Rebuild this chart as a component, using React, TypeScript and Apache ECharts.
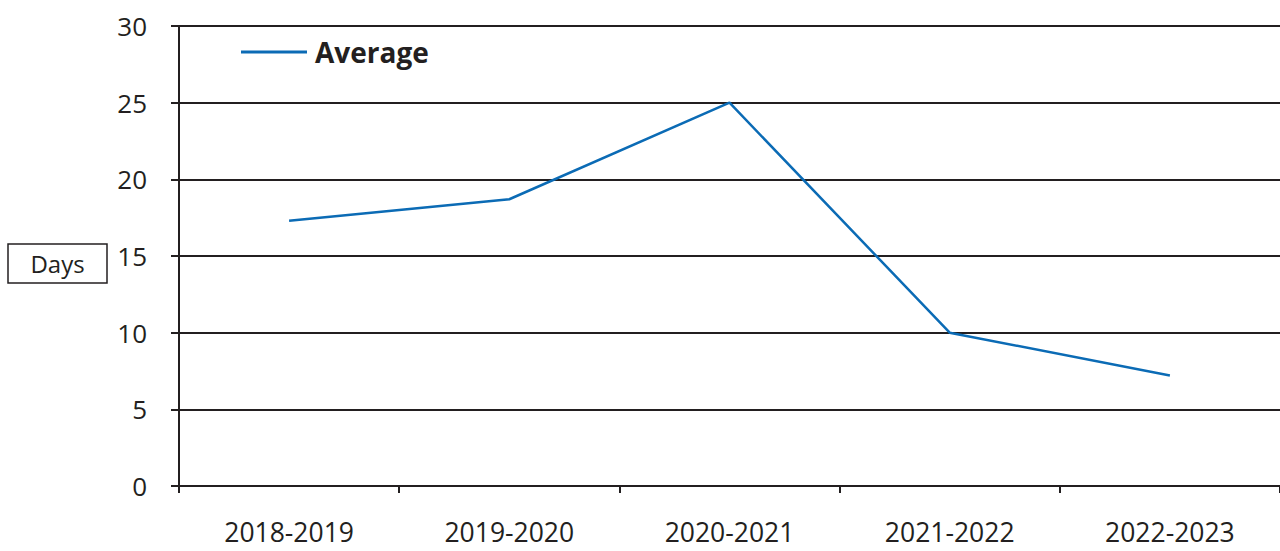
import React, { useEffect, useRef } from "react";
import * as echarts from "echarts";

const categories = ["2018-2019", "2019-2020", "2020-2021", "2021-2022", "2022-2023"];
const averageValues = [17.3, 18.7, 25.0, 10.0, 7.2];
const seriesName = "Average";
const yAxisTitle = "Days";

export default function App() {
  const ref = useRef<HTMLDivElement>(null);
  useEffect(() => {
    const chart = echarts.init(ref.current!, null, { renderer: "svg" });
    const font = "'Open Sans', sans-serif";
    const dark = "#231f20";
    const blue = "#0b6bb5";
    chart.setOption({
      animation: false,
      textStyle: { fontFamily: font },
      grid: { left: 179, right: 0, top: 26, bottom: 65, containLabel: false },
      legend: {
        data: [{ name: seriesName, icon: "rect" }],
        left: 241,
        top: 37,
        padding: 0,
        itemWidth: 66,
        itemHeight: 3,
        textStyle: {
          fontFamily: font,
          fontSize: 28,
          fontWeight: "bold",
          color: dark,
          padding: [0, 0, 0, 3],
          lineHeight: 30,
        },
      },
      xAxis: {
        type: "category",
        data: categories,
        boundaryGap: true,
        axisLine: { show: true, lineStyle: { color: dark, width: 2 } },
        axisTick: { show: true, length: 7, lineStyle: { color: dark, width: 2 } },
        axisLabel: { fontFamily: font, fontSize: 26.5, color: dark, margin: 33, lineHeight: 26 },
        splitLine: { show: false },
      },
      yAxis: {
        type: "value",
        min: 0,
        max: 30,
        interval: 5,
        axisLine: { show: true, lineStyle: { color: dark, width: 2 } },
        axisTick: { show: true, length: 8, lineStyle: { color: dark, width: 2 } },
        axisLabel: { fontFamily: font, fontSize: 26, color: dark, margin: 32 },
        splitLine: { show: true, lineStyle: { color: dark, width: 2 } },
      },
      graphic: [
        {
          type: "rect",
          shape: { x: 8, y: 244, width: 99, height: 39 },
          style: { fill: "#fff", stroke: dark, lineWidth: 1.5 },
        },
        {
          type: "text",
          x: 57.5,
          y: 263.5,
          style: {
            text: yAxisTitle,
            font: "24px 'Open Sans', sans-serif",
            fill: dark,
            align: "center",
            verticalAlign: "middle",
          },
        },
      ],
      series: [
        {
          name: seriesName,
          type: "line",
          data: averageValues,
          symbol: "none",
          lineStyle: { color: blue, width: 2.5 },
          itemStyle: { color: blue },
        },
      ],
    });
    return () => chart.dispose();
  }, []);
  return (
    <div
      ref={ref}
      style={{ position: "absolute", left: 0, top: 0, width: 1280, height: 551, background: "#fff" }}
    />
  );
}
